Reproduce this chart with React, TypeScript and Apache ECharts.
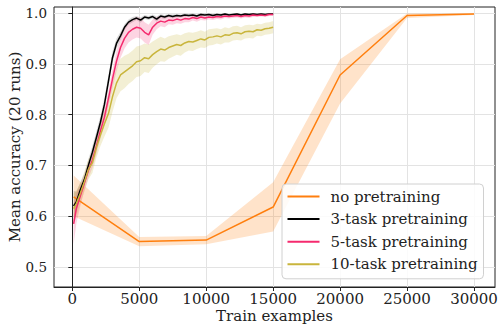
import React, { useEffect, useRef } from "react";
import * as echarts from "echarts";

const xTicks = [0, 5000, 10000, 15000, 20000, 25000, 30000];
const yTicks = [0.5, 0.6, 0.7, 0.8, 0.9, 1.0];

const seriesNames = ["no pretraining", "3-task pretraining", "5-task pretraining", "10-task pretraining"];

// no pretraining
const noPreX = [100, 5000, 10000, 15000, 20000, 25000, 30000];
const noPreMean = [0.638, 0.55, 0.553, 0.618, 0.878, 0.995, 0.998];
const noPreLow = [0.6, 0.541, 0.545, 0.57, 0.822, 0.99, 0.996];
const noPreHigh = [0.68, 0.559, 0.561, 0.667, 0.909, 0.999, 0.999];

// pretraining curves
const preX = [100, 300, 600, 900, 1200, 1500, 1800, 2100, 2400, 2700, 3000, 3300, 3600, 3900, 4200, 4500, 4800, 5100, 5400, 5700, 6000, 6300, 6600, 6900, 7200, 7500, 7800, 8100, 8400, 8700, 9000, 9300, 9600, 9900, 10200, 10500, 10800, 11100, 11400, 11700, 12000, 12300, 12600, 12900, 13200, 13500, 13800, 14100, 14400, 14700, 15000];

const task3Mean = [0.62, 0.628, 0.652, 0.672, 0.7, 0.726, 0.755, 0.785, 0.82, 0.866, 0.912, 0.94, 0.955, 0.972, 0.982, 0.987, 0.99, 0.986, 0.992, 0.99, 0.993, 0.988, 0.994, 0.992, 0.995, 0.993, 0.995, 0.994, 0.996, 0.995, 0.996, 0.994, 0.997, 0.996, 0.997, 0.995, 0.997, 0.996, 0.998, 0.996, 0.997, 0.998, 0.996, 0.998, 0.997, 0.998, 0.997, 0.998, 0.997, 0.998, 0.998];
const task3Spread = [0.03, 0.02, 0.015, 0.012, 0.012, 0.012, 0.012, 0.012, 0.012, 0.012, 0.012, 0.01, 0.008, 0.006, 0.005, 0.005, 0.004, 0.005, 0.004, 0.004, 0.004, 0.005, 0.004, 0.004, 0.003, 0.004, 0.003, 0.003, 0.003, 0.003, 0.003, 0.003, 0.003, 0.003, 0.002, 0.003, 0.002, 0.002, 0.002, 0.002, 0.002, 0.002, 0.002, 0.002, 0.002, 0.002, 0.002, 0.002, 0.002, 0.002, 0.002];

const task5Mean = [0.585, 0.615, 0.64, 0.665, 0.69, 0.71, 0.738, 0.768, 0.795, 0.832, 0.87, 0.905, 0.932, 0.95, 0.962, 0.968, 0.972, 0.97, 0.962, 0.957, 0.972, 0.98, 0.984, 0.982, 0.986, 0.985, 0.988, 0.986, 0.989, 0.988, 0.991, 0.989, 0.992, 0.99, 0.992, 0.991, 0.993, 0.992, 0.994, 0.993, 0.994, 0.995, 0.993, 0.995, 0.994, 0.996, 0.995, 0.996, 0.995, 0.997, 0.997];
const task5Spread = [0.04, 0.03, 0.02, 0.015, 0.015, 0.015, 0.015, 0.015, 0.015, 0.015, 0.018, 0.02, 0.02, 0.02, 0.02, 0.02, 0.02, 0.02, 0.02, 0.02, 0.015, 0.012, 0.01, 0.01, 0.008, 0.008, 0.008, 0.007, 0.007, 0.006, 0.006, 0.006, 0.006, 0.005, 0.005, 0.005, 0.005, 0.005, 0.004, 0.004, 0.004, 0.004, 0.004, 0.004, 0.004, 0.004, 0.003, 0.003, 0.003, 0.003, 0.003];

const task10Mean = [0.615, 0.625, 0.645, 0.668, 0.692, 0.705, 0.735, 0.76, 0.782, 0.802, 0.835, 0.862, 0.878, 0.884, 0.89, 0.896, 0.904, 0.906, 0.912, 0.91, 0.918, 0.924, 0.929, 0.927, 0.932, 0.935, 0.938, 0.936, 0.941, 0.944, 0.943, 0.946, 0.949, 0.947, 0.952, 0.953, 0.955, 0.953, 0.957, 0.956, 0.96, 0.961, 0.959, 0.963, 0.964, 0.963, 0.967, 0.966, 0.969, 0.97, 0.972];
const task10Spread = [0.03, 0.025, 0.02, 0.02, 0.02, 0.02, 0.02, 0.022, 0.025, 0.028, 0.03, 0.03, 0.032, 0.032, 0.03, 0.03, 0.03, 0.03, 0.028, 0.028, 0.026, 0.025, 0.024, 0.023, 0.022, 0.021, 0.02, 0.02, 0.019, 0.018, 0.018, 0.017, 0.017, 0.016, 0.016, 0.016, 0.015, 0.015, 0.015, 0.014, 0.014, 0.014, 0.013, 0.013, 0.013, 0.013, 0.012, 0.012, 0.012, 0.012, 0.012];

const colors = ["#ff7f0e", "#000000", "#f52a6e", "#c9b53c"];
const bandColors = ["rgba(255,127,14,0.22)", "rgba(0,0,0,0.15)", "rgba(245,42,110,0.2)", "rgba(201,181,60,0.22)"];

const FONT = "DejaVu Serif";

function bandSeries(key: string, xs: number[], low: number[], high: number[], color: string) {
  return {
    type: "custom",
    name: key,
    silent: true,
    clip: true,
    data: xs.map((x, i) => [x, low[i], high[i]]),
    encode: { x: 0, y: [1, 2] },
    renderItem: (params: any, api: any) => {
      if (params.dataIndex !== 0) return null;
      const pts: number[][] = [];
      for (let i = 0; i < xs.length; i++) pts.push(api.coord([xs[i], high[i]]));
      for (let i = xs.length - 1; i >= 0; i--) pts.push(api.coord([xs[i], low[i]]));
      return { type: "polygon", shape: { points: pts }, style: { fill: color } };
    },
  };
}

function lineSeries(name: string, xs: number[], ys: number[], color: string) {
  return {
    type: "line",
    name,
    data: xs.map((x, i) => [x, ys[i]]),
    symbol: "none",
    lineStyle: { color, width: 1.5 },
    itemStyle: { color },
  };
}

export default function App() {
  const ref = useRef<HTMLDivElement>(null);
  useEffect(() => {
    if (!ref.current) return;
    const chart = echarts.init(ref.current, null, { renderer: "svg" });
    const means = [task3Mean, task5Mean, task10Mean];
    const spreads = [task3Spread, task5Spread, task10Spread];
    const series: any[] = [];
    series.push(bandSeries("b0", noPreX, noPreLow, noPreHigh, bandColors[0]));
    series.push(lineSeries(seriesNames[0], noPreX, noPreMean, colors[0]));
    for (let k = 0; k < 3; k++) {
      const m = means[k];
      const s = spreads[k];
      const lo = m.map((v, i) => v - s[i]);
      const hi = m.map((v, i) => v + s[i]);
      series.push(bandSeries("b" + (k + 1), preX, lo, hi, bandColors[k + 1]));
      series.push(lineSeries(seriesNames[k + 1], preX, m, colors[k + 1]));
    }
    const axisCommon = {
      axisLine: { show: true, lineStyle: { color: "#222", width: 1 } },
      axisTick: { show: true, length: 4, lineStyle: { color: "#222" } },
      splitLine: { show: true, lineStyle: { color: "#e3e3e3", width: 1 } },
    };
    chart.setOption({
      animation: false,
      grid: {
        left: 54,
        right: 3,
        top: 7,
        bottom: 42,
        containLabel: false,
        outerBoundsMode: "none",
        show: true,
        borderColor: "#222",
        borderWidth: 1,
        backgroundColor: "transparent",
      },
      legend: {
        data: seriesNames.map((n, i) => ({ name: n, itemStyle: { color: colors[i] } })),
        orient: "vertical",
        left: 282,
        top: 184,
        icon: "rect",
        itemWidth: 32,
        itemHeight: 2,
        itemGap: 6.6,
        padding: [4.5, 6, 6.5, 5.5],
        backgroundColor: "rgba(255,255,255,0.85)",
        borderColor: "#d0d0d0",
        borderWidth: 1,
        borderRadius: 4,
        textStyle: { fontFamily: FONT, fontSize: 15, color: "#222", lineHeight: 16, padding: [0, 0, 0, 6] },
      },
      xAxis: {
        type: "value",
        min: -1367,
        max: 31568,
        interval: 5000,
        name: "Train examples",
        nameLocation: "middle",
        nameGap: 21,
        nameMoveOverlap: false,
        nameTextStyle: { fontFamily: FONT, fontSize: 15, color: "#222", lineHeight: 15 },
        ...axisCommon,
        axisTick: { ...axisCommon.axisTick, customValues: xTicks },
        axisLabel: {
          customValues: xTicks,
          fontFamily: FONT,
          fontSize: 15,
          lineHeight: 15,
          color: "#222",
          margin: 4,
          formatter: (v: number) => String(Math.round(v)),
        },
      },
      yAxis: {
        type: "value",
        min: 0.4606,
        max: 1.0118,
        interval: 0.1,
        name: "Mean accuracy (20 runs)",
        nameLocation: "middle",
        nameGap: 32,
        nameMoveOverlap: false,
        nameTextStyle: { fontFamily: FONT, fontSize: 15, color: "#222" },
        ...axisCommon,
        axisTick: { ...axisCommon.axisTick, customValues: yTicks },
        axisLabel: {
          customValues: yTicks,
          fontFamily: FONT,
          fontSize: 13.5,
          color: "#222",
          margin: 7,
          formatter: (v: number) => v.toFixed(1),
        },
      },
      series,
    });
    return () => chart.dispose();
  }, []);
  return <div ref={ref} style={{ position: "absolute", left: 0, top: 0, width: 498, height: 329 }} />;
}
